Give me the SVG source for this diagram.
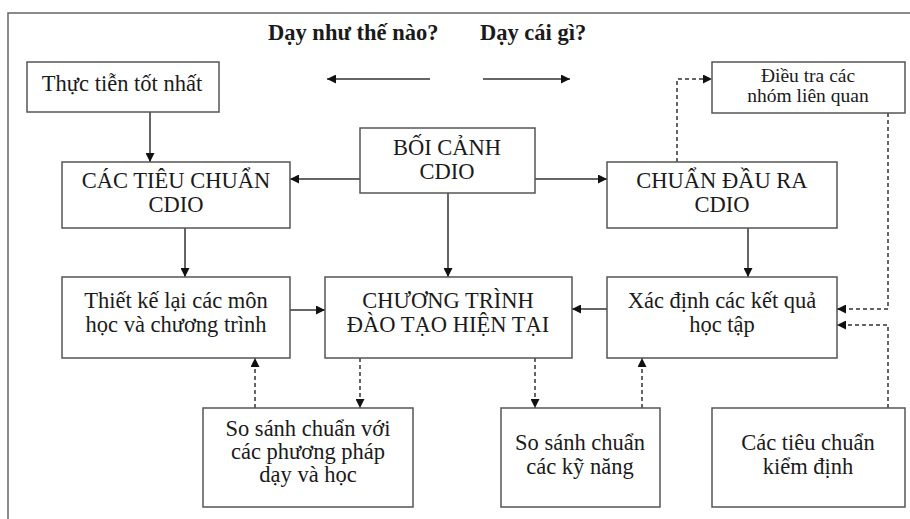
<svg xmlns="http://www.w3.org/2000/svg" width="910" height="519" viewBox="0 0 910 519">
<defs>
<marker id="ah" viewBox="0 0 10 10" refX="10" refY="5" markerWidth="9" markerHeight="9" markerUnits="userSpaceOnUse" orient="auto">
<path d="M0,0 L10,5 L0,10 z" fill="#111"/>
</marker>
</defs>
<style>
.box{fill:#fff;stroke:#555;stroke-width:1.5}
.t{font-family:"Liberation Serif","Times New Roman",serif;font-size:22.5px;fill:#1a1a1a;text-anchor:middle}
.ts{font-family:"Liberation Serif","Times New Roman",serif;font-size:19.5px;fill:#1a1a1a;text-anchor:middle}
.h{font-family:"Liberation Serif","Times New Roman",serif;font-size:22.5px;font-weight:bold;fill:#1a1a1a}
.c{fill:none;stroke:#333;stroke-width:1.5}
.d{fill:none;stroke:#333;stroke-width:1.5;stroke-dasharray:4,3}
</style>
<rect width="910" height="519" fill="#fff"/>
<path d="M8,519 L8,13 L910,13" fill="none" stroke="#666" stroke-width="1.5"/>

<g id="header">
<text class="h" x="268" y="40">Dạy như thế nào?</text>
<text class="h" x="480" y="40">Dạy cái gì?</text>
</g>

<g id="connectors">
<line class="c" x1="430" y1="79" x2="327" y2="79" marker-end="url(#ah)"/>
<line class="c" x1="483" y1="79" x2="570" y2="79" marker-end="url(#ah)"/>
<line class="c" x1="150" y1="112" x2="150" y2="162" marker-end="url(#ah)"/>
<line class="c" x1="360" y1="179" x2="290" y2="179" marker-end="url(#ah)"/>
<line class="c" x1="535" y1="179" x2="607" y2="179" marker-end="url(#ah)"/>
<line class="c" x1="448" y1="193" x2="448" y2="277" marker-end="url(#ah)"/>
<line class="c" x1="185" y1="228" x2="185" y2="277" marker-end="url(#ah)"/>
<line class="c" x1="748" y1="228" x2="748" y2="277" marker-end="url(#ah)"/>
<line class="c" x1="290" y1="310" x2="325" y2="310" marker-end="url(#ah)"/>
<line class="c" x1="607" y1="309" x2="572" y2="309" marker-end="url(#ah)"/>
<polyline class="d" points="677,162 677,79 712,79" marker-end="url(#ah)"/>
<polyline class="d" points="888,113 888,309 837,309" marker-end="url(#ah)"/>
<polyline class="d" points="888,408 888,325 837,325" marker-end="url(#ah)"/>
<line class="d" x1="255" y1="408" x2="255" y2="358" marker-end="url(#ah)"/>
<line class="d" x1="360" y1="358" x2="360" y2="408" marker-end="url(#ah)"/>
<line class="d" x1="535" y1="358" x2="535" y2="408" marker-end="url(#ah)"/>
<line class="d" x1="642" y1="408" x2="642" y2="358" marker-end="url(#ah)"/>
</g>

<g id="thuc-tien">
<rect class="box" x="27" y="62" width="192" height="50"/>
<text class="t" x="122" y="91">Thực tiễn tốt nhất</text>
</g>
<g id="cac-tieu-chuan-cdio">
<rect class="box" x="62" y="162" width="228" height="66"/>
<text class="t" x="176" y="188">CÁC TIÊU CHUẨN</text>
<text class="t" x="176" y="212">CDIO</text>
</g>
<g id="boi-canh">
<rect class="box" x="360" y="128" width="175" height="65"/>
<text class="t" x="447" y="155">BỐI CẢNH</text>
<text class="t" x="447" y="179">CDIO</text>
</g>
<g id="chuan-dau-ra">
<rect class="box" x="607" y="162" width="230" height="66"/>
<text class="t" x="722" y="188">CHUẨN ĐẦU RA</text>
<text class="t" x="722" y="212">CDIO</text>
</g>
<g id="dieu-tra">
<rect class="box" x="712" y="62" width="193" height="51"/>
<text class="ts" x="808" y="82">Điều tra các</text>
<text class="ts" x="808" y="102">nhóm liên quan</text>
</g>
<g id="thiet-ke">
<rect class="box" x="62" y="277" width="228" height="81"/>
<text class="t" x="176" y="308">Thiết kế lại các môn</text>
<text class="t" x="176" y="332">học và chương trình</text>
</g>
<g id="chuong-trinh">
<rect class="box" x="325" y="277" width="247" height="81"/>
<text class="t" x="448" y="308">CHƯƠNG TRÌNH</text>
<text class="t" x="448" y="332">ĐÀO TẠO HIỆN TẠI</text>
</g>
<g id="xac-dinh">
<rect class="box" x="607" y="277" width="230" height="81"/>
<text class="t" x="722" y="308">Xác định các kết quả</text>
<text class="t" x="722" y="332">học tập</text>
</g>
<g id="so-sanh-pp">
<rect class="box" x="203" y="408" width="210" height="99"/>
<text class="t" x="308" y="436">So sánh chuẩn với</text>
<text class="t" x="308" y="459">các phương pháp</text>
<text class="t" x="308" y="482">dạy và học</text>
</g>
<g id="so-sanh-kn">
<rect class="box" x="501" y="408" width="159" height="99"/>
<text class="t" x="580" y="450">So sánh chuẩn</text>
<text class="t" x="580" y="474">các kỹ năng</text>
</g>
<g id="kiem-dinh">
<rect class="box" x="712" y="408" width="193" height="99"/>
<text class="t" x="808" y="450">Các tiêu chuẩn</text>
<text class="t" x="808" y="474">kiểm định</text>
</g>
</svg>
